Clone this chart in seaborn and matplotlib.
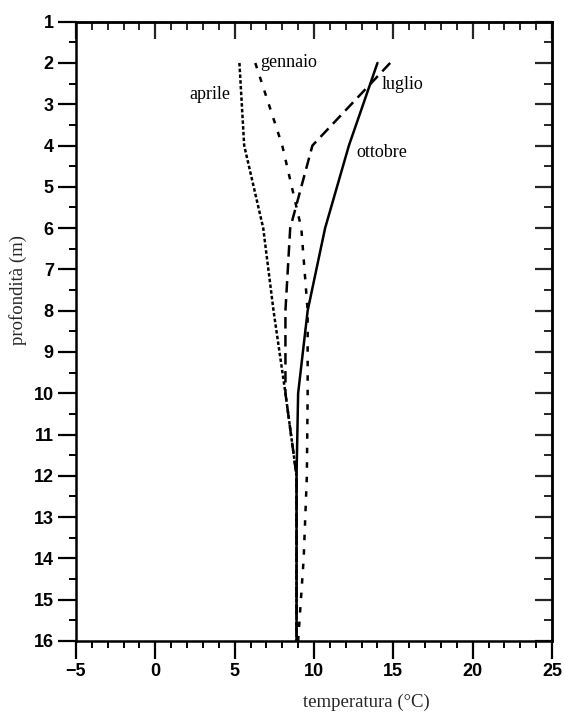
import matplotlib
matplotlib.use("Agg")
import matplotlib.pyplot as plt
from matplotlib.ticker import MultipleLocator
import seaborn as sns
import pandas as pd

## depth profiles
depths = [2, 4, 6, 8, 10, 12, 14, 16]
gennaio = [6.3, 8.0, 9.2, 9.6, 9.6, 9.55, 9.35, 9.0]
aprile = [5.3, 5.6, 6.8, 7.45, 8.2, 8.9, 8.9, 8.9]
luglio = [14.8, 9.9, 8.5, 8.2, 8.2, 8.9, 8.9, 8.9]
ottobre = [14.0, 12.2, 10.7, 9.6, 9.0, 8.9, 8.9, 8.9]

months = ["gennaio", "aprile", "luglio", "ottobre"]
month_values = [gennaio, aprile, luglio, ottobre]
x_ticks = [-5, 0, 5, 10, 15, 20, 25]
y_ticks = list(range(1, 17))

## label anchors (temperature, depth)
label_pos = {"gennaio": (6.6, 1.98, "left"), "aprile": (4.7, 2.77, "right"),
             "luglio": (14.26, 2.53, "left"), "ottobre": (12.64, 4.18, "left")}
styles = {"gennaio": (0, (2.2, 3.6)), "aprile": (0, (1.4, 0.9)),
          "luglio": (0, (4.6, 2.6)), "ottobre": "-"}

sns.set_style("ticks")
plt.rcParams['font.family'] = ['Liberation Serif', 'DejaVu Serif']

fig = plt.figure(figsize=(5.65, 7.13), dpi=100)
ax = fig.add_axes([0.1345, 0.101, 0.8425, 0.8686])

for name, vals in zip(months, month_values):
    df = pd.DataFrame({"temp": vals, "depth": depths})
    ## no aggregation: each profile is drawn point by point, top to bottom
    sns.lineplot(data=df, x="temp", y="depth", sort=False, estimator=None,
                 color="black", linewidth=1.8, linestyle=styles[name], ax=ax)
    tx, ty, ha = label_pos[name]
    ax.text(tx, ty, name, ha=ha, va="center", fontsize=13, color="black")

ax.set_xlim(-5, 25)
ax.set_ylim(16, 1)
ax.set_xticks(x_ticks)
ax.set_yticks(y_ticks)
ax.xaxis.set_minor_locator(MultipleLocator(1))
ax.yaxis.set_minor_locator(MultipleLocator(0.5))
ax.set_xlabel("")
ax.set_ylabel("")

for sp in ax.spines.values():
    sp.set_visible(True)
    sp.set_linewidth(1.8)
    sp.set_color("black")

tick_font = {'family': ['Liberation Sans Narrow', 'Liberation Sans', 'DejaVu Sans'],
             'weight': 'bold', 'size': 13}
ax.tick_params(which="major", direction="out", length=13, width=1.6, pad=3, colors="black")
ax.tick_params(which="minor", direction="out", length=5, width=1.4, colors="black")
for lab in ax.get_xticklabels() + ax.get_yticklabels():
    lab.set_fontproperties(matplotlib.font_manager.FontProperties(**tick_font))

## inward ticks on the top and right sides
top = ax.secondary_xaxis("top")
top.set_xticks(x_ticks)
top.xaxis.set_minor_locator(MultipleLocator(1))
top.tick_params(which="major", direction="in", length=12, width=1.6, labeltop=False)
top.tick_params(which="minor", direction="in", length=6, width=1.4)
right = ax.secondary_yaxis("right")
right.set_yticks(y_ticks)
right.yaxis.set_minor_locator(MultipleLocator(0.5))
right.tick_params(which="major", direction="in", length=12, width=1.6, labelright=False)
right.tick_params(which="minor", direction="in", length=6, width=1.4)
for sec in (top, right):
    for sp in sec.spines.values():
        sp.set_linewidth(1.8)

fig.text(0.648, 0.0154, "temperatura (°C)", ha="center", va="center", fontsize=13.5)
fig.text(0.032, 0.593, "profondità (m)", ha="center", va="center", rotation=90, fontsize=13.5)

fig.savefig("out.png", dpi=100)
